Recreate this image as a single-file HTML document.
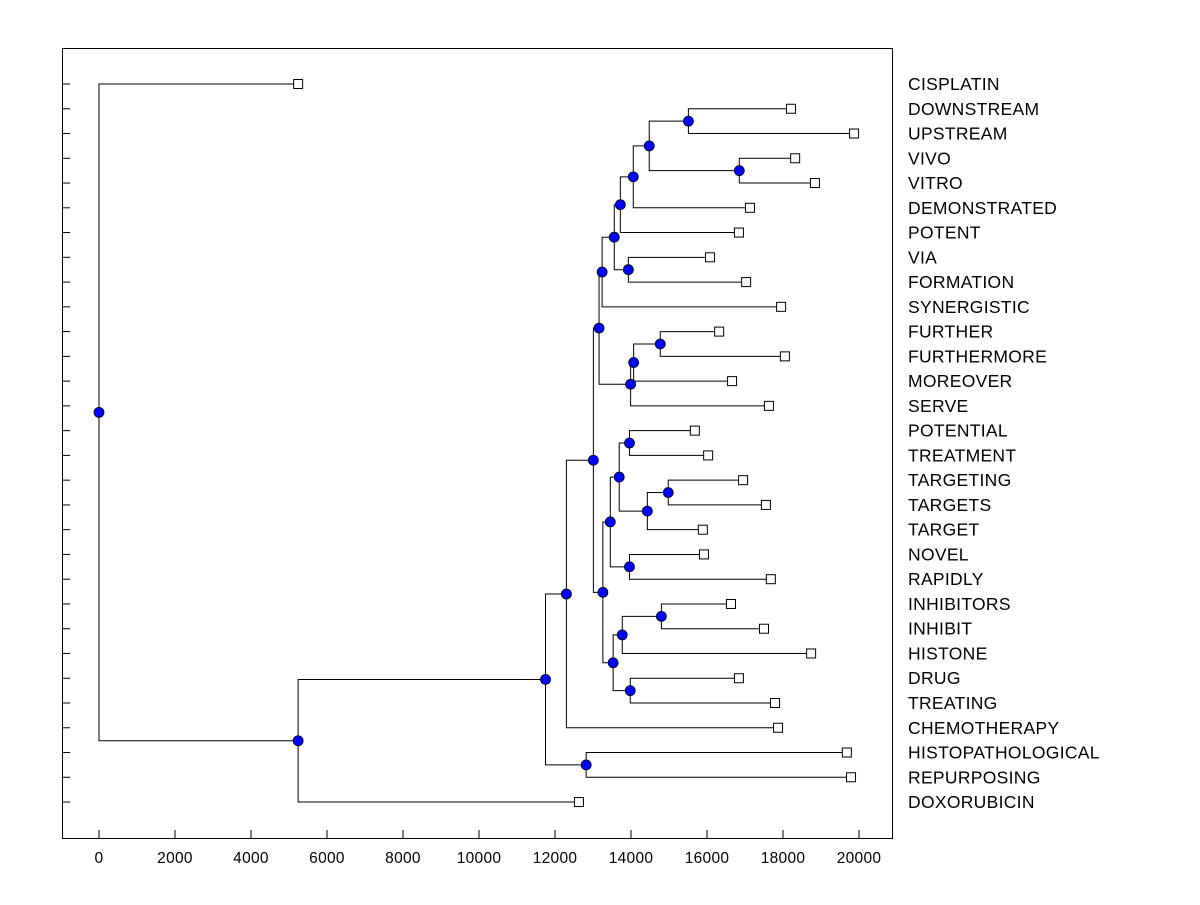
<!DOCTYPE html>
<html><head><meta charset="utf-8"><style>
body{margin:0;background:#fff;}
svg text{font-family:"Liberation Sans",Arial,sans-serif;}
</style></head><body>
<svg id="c" width="1200" height="900" xmlns="http://www.w3.org/2000/svg"></svg>
<script>
const leafNames=["CISPLATIN","DOWNSTREAM","UPSTREAM","VIVO","VITRO","DEMONSTRATED","POTENT","VIA","FORMATION","SYNERGISTIC","FURTHER","FURTHERMORE","MOREOVER","SERVE","POTENTIAL","TREATMENT","TARGETING","TARGETS","TARGET","NOVEL","RAPIDLY","INHIBITORS","INHIBIT","HISTONE","DRUG","TREATING","CHEMOTHERAPY","HISTOPATHOLOGICAL","REPURPOSING","DOXORUBICIN"];
const leafValues=[5240,18210,19870,18320,18840,17130,16840,16080,17030,17950,16320,18050,16660,17630,15680,16030,16950,17550,15890,15920,17680,16630,17500,18740,16840,17790,17870,19680,19790,12630];
// internal nodes: [name, value, childA, childB]; children: "L:i" leaf index or node name
const nodes=[
["n688",15510,"L:1","L:2"],["n739",16850,"L:3","L:4"],["n649",14480,"n688","n739"],
["n633a",14060,"n649","L:5"],["n620",13720,"n633a","L:6"],["n628",13930,"L:7","L:8"],
["n614",13560,"n620","n628"],["n602",13240,"n614","L:9"],["n660",14770,"L:10","L:11"],
["n633c",14070,"n660","L:12"],["n633b",13990,"n633c","L:13"],["n599",13160,"n602","n633b"],
["n629a",13960,"L:14","L:15"],["n668",14980,"L:16","L:17"],["n647",14430,"n668","L:18"],
["n619",13690,"n629a","n647"],["n629b",13960,"L:19","L:20"],["n610",13455,"n619","n629b"],
["n661",14800,"L:21","L:22"],["n622",13770,"n661","L:23"],["n630",13980,"L:24","L:25"],
["n613",13530,"n622","n630"],["n603",13260,"n610","n613"],["n593",13010,"n599","n603"],
["n566",12300,"n593","L:26"],["n586",12820,"L:27","L:28"],["n545",11750,"n566","n586"],
["n298",5240,"n545","L:29"],["root",0,"L:0","n298"]];
const xTicks=[0,2000,4000,6000,8000,10000,12000,14000,16000,18000,20000];

const svg=document.getElementById('c');const NS="http://www.w3.org/2000/svg";
const X=v=>99+v*0.038;
const Y=i=>84+i*24.76;
function el(t,a,p){const e=document.createElementNS(NS,t);for(const k in a)e.setAttribute(k,a[k]);(p||svg).appendChild(e);return e;}
const frame=el('rect',{x:62.5,y:48.5,width:830,height:790,fill:'none',stroke:'#000','stroke-width':1});


xTicks.forEach(t=>{
 const l=el('line',{x1:X(t),x2:X(t),y1:838,y2:830,stroke:'#000'});
 
 
 const tx=el('text',{x:X(t),y:863,'text-anchor':'middle','font-size':15.5,'letter-spacing':0.3});tx.textContent=t;
 
 
});
leafNames.forEach((n,i)=>{
 const l=el('line',{x1:62,x2:70,y1:Y(i),y2:Y(i),stroke:'#000'});
 
 
 const tx=el('text',{x:908,y:Y(i)+6,'font-size':17.5,'letter-spacing':0.3});tx.textContent=n;
 
 
});
const pos={};
leafValues.forEach((v,i)=>{pos["L:"+i]={x:X(v),y:Y(i)};});
const lines=el('g',{});
const marks=el('g',{});
nodes.forEach(nd=>{
 const a=pos[nd[2]],b=pos[nd[3]],x=X(nd[1]),y=(a.y+b.y)/2;pos[nd[0]]={x,y};
 const p=el('path',{d:`M${a.x},${a.y}H${x}V${b.y}H${b.x}`,fill:'none',stroke:'#000','stroke-width':1},lines);
 
 
});
leafValues.forEach((v,i)=>{
 const r=el('rect',{x:X(v)-4.5,y:Y(i)-4.5,width:9,height:9,fill:'#fff',stroke:'#000'},marks);
 
 
});
nodes.forEach(nd=>{
 const c=el('circle',{cx:pos[nd[0]].x,cy:pos[nd[0]].y,r:5,fill:'#0000ff',stroke:'#000','stroke-width':0.8},marks);
 
 
});
</script>
</body></html>
